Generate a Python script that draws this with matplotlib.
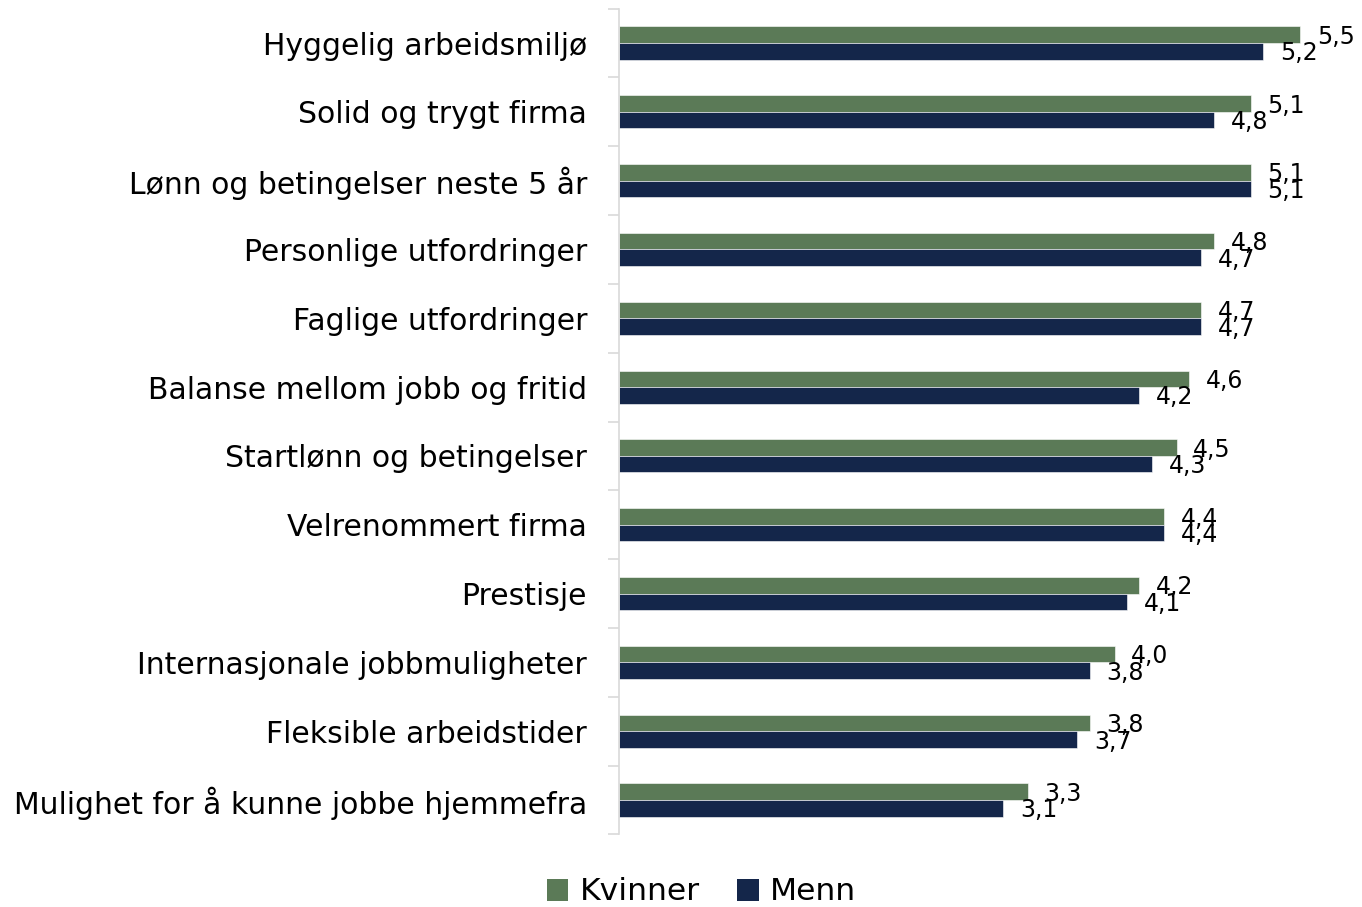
import matplotlib
matplotlib.use("Agg")
import matplotlib.pyplot as plt
import numpy as np
from matplotlib.patches import Patch

categories = [
    "Hyggelig arbeidsmiljø",
    "Solid og trygt firma",
    "Lønn og betingelser neste 5 år",
    "Personlige utfordringer",
    "Faglige utfordringer",
    "Balanse mellom jobb og fritid",
    "Startlønn og betingelser",
    "Velrenommert firma",
    "Prestisje",
    "Internasjonale jobbmuligheter",
    "Fleksible arbeidstider",
    "Mulighet for å kunne jobbe hjemmefra",
]
kvinner = [5.5, 5.1, 5.1, 4.8, 4.7, 4.6, 4.5, 4.4, 4.2, 4.0, 3.8, 3.3]
menn = [5.2, 4.8, 5.1, 4.7, 4.7, 4.2, 4.3, 4.4, 4.1, 3.8, 3.7, 3.1]
series_names = ["Kvinner", "Menn"]
colors = ["#5B7A57", "#14264A"]

plt.rcParams['font.family'] = ['DejaVu Sans']

W, H = 1362, 907
fig = plt.figure(figsize=(W / 100, H / 100), dpi=100)
left_px, right_px, top_px, bot_px = 619, 1340, 8.6, 834.4
ax = fig.add_axes([left_px / W, 1 - bot_px / H, (right_px - left_px) / W, (bot_px - top_px) / H])

n = len(categories)
y = np.arange(n)
bh = 0.24
ax.barh(y - bh / 2, kvinner, height=bh, color=colors[0], edgecolor='#ffffff', linewidth=0.4)
ax.barh(y + bh / 2, menn, height=bh, color=colors[1], edgecolor='#ffffff', linewidth=0.4)

px_per_unit = 123.9
ax.set_xlim(0, (right_px - left_px) / px_per_unit)
ax.set_ylim(n - 0.5, -0.5)

for i in range(n):
    ax.annotate(f"{kvinner[i]:.1f}".replace('.', ','), (kvinner[i], y[i] - bh / 2),
                xytext=(12, -1.5), textcoords='offset points', ha='left', va='center',
                fontsize=17, color='black', annotation_clip=False)
    ax.annotate(f"{menn[i]:.1f}".replace('.', ','), (menn[i], y[i] + bh / 2),
                xytext=(12, -1.5), textcoords='offset points', ha='left', va='center',
                fontsize=17, color='black', annotation_clip=False)

ax.set_xticks([])
ax.set_yticks(np.arange(-0.5, n, 1.0))
ax.set_yticklabels([])
ax.set_yticks(y, minor=True)
ax.set_yticklabels(categories, minor=True, fontsize=21.5)
ax.tick_params(axis='y', which='minor', length=0, pad=23)
ax.tick_params(axis='y', which='major', length=8, color='#d9d9d9', width=1.2)
for s in ['top', 'right', 'bottom']:
    ax.spines[s].set_visible(False)
ax.spines['left'].set_color('#d9d9d9')
ax.spines['left'].set_linewidth(1.2)

handles = [Patch(facecolor=c, edgecolor='none') for c in colors]
fig.legend(handles, series_names, loc='center', bbox_to_anchor=(0.515, 1 - 892 / H),
           ncol=2, frameon=False, fontsize=22.6, handlelength=0.7, handleheight=0.7,
           handletextpad=0.35, columnspacing=1.2)

fig.savefig("out.png", dpi=100)
